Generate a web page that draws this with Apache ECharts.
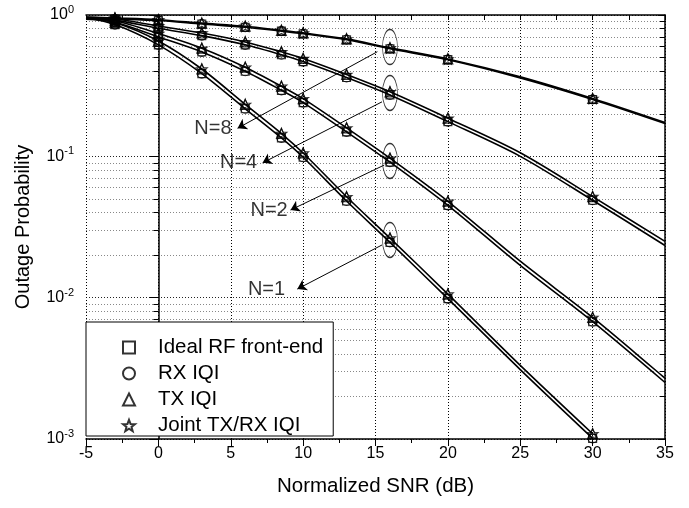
<!DOCTYPE html>
<html><head><meta charset="utf-8">
<script src="https://cdn.jsdelivr.net/npm/echarts@6/dist/echarts.min.js"></script>
<style>html,body{margin:0;padding:0;background:#fff}#c{width:689px;height:508px}</style>
</head><body><div id="c"></div>
<script>
// ---- data ----
const snr = [-5, -3, 0, 3, 6, 8.5, 10, 13, 16, 20, 25, 30, 35];
const markerSnr = [-3, 0, 3, 6, 8.5, 10, 13, 16, 20, 30];
// lower curve of each pair: ideal RF front-end / RX IQI ; upper: TX IQI / joint TX/RX IQI
const n1Ideal = [0.955, 0.855, 0.615, 0.385, 0.217, 0.135, 0.0985, 0.0483, 0.0246, 0.00985, 0.0031, 0.00101, null];
const n1Iqi   = [0.962, 0.885, 0.655, 0.415, 0.233, 0.145, 0.1055, 0.0518, 0.0264, 0.0106, 0.00332, 0.00109, null];
const n2Ideal = [0.935, 0.89, 0.70, 0.548, 0.40, 0.293, 0.24, 0.149, 0.091, 0.045, 0.0169, 0.00676, 0.00251];
const n2Iqi   = [0.945, 0.91, 0.74, 0.582, 0.427, 0.313, 0.256, 0.159, 0.097, 0.0481, 0.0181, 0.00725, 0.00269];
const n4Ideal = [0.955, 0.92, 0.805, 0.715, 0.615, 0.523, 0.468, 0.361, 0.272, 0.176, 0.10, 0.0489, 0.0234];
const n4Iqi   = [0.965, 0.94, 0.835, 0.745, 0.645, 0.549, 0.492, 0.379, 0.286, 0.186, 0.106, 0.0519, 0.025];
const n8Ideal = [0.953, 0.938, 0.914, 0.864, 0.82, 0.769, 0.737, 0.668, 0.577, 0.483, 0.359, 0.2527, 0.1708];
const n8Iqi   = [0.967, 0.952, 0.926, 0.876, 0.832, 0.779, 0.747, 0.678, 0.585, 0.489, 0.365, 0.2563, 0.1732];

const seriesNames = ['Ideal RF front-end', 'RX IQI', 'TX IQI', 'Joint TX/RX IQI'];
const curveLabels = ['N=1', 'N=2', 'N=4', 'N=8'];
const yMajorTicks = [0.001, 0.01, 0.1, 1];
const yMinorTicks = [0.002, 0.003, 0.004, 0.005, 0.006, 0.007, 0.008, 0.009,
                     0.02, 0.03, 0.04, 0.05, 0.06, 0.07, 0.08, 0.09,
                     0.2, 0.3, 0.4, 0.5, 0.6, 0.7, 0.8, 0.9];
// annotations (data coordinates)
const ellipseSnr = 16;
const ellipseVals = [0.0256, 0.0927, 0.2806, 0.593];
const labelPos = [[7.47, 0.0115], [7.65, 0.0417], [5.54, 0.0904], [3.77, 0.158]];
const arrowFrom = [[15.45, 0.0236], [15.6, 0.0867], [15.45, 0.243], [15.13, 0.55]];
const arrowTo = [[9.6, 0.0115], [9.13, 0.0417], [7.2, 0.0899], [5.47, 0.158]];

// ---- build ----
const pairs = [[n1Ideal, n1Iqi], [n2Ideal, n2Iqi], [n4Ideal, n4Iqi], [n8Ideal, n8Iqi]];
const toXY = arr => snr.map((x, i) => [x, arr[i]]).filter(p => p[1] != null);
const atMarkers = arr => markerSnr.map(x => [x, arr[snr.indexOf(x)]]).filter(p => p[1] != null);

const star = 'path://M0,-10 L2.469,-3.398 L9.511,-3.09 L3.994,1.298 L5.878,8.09 L0,4.2 L-5.878,8.09 L-3.994,1.298 L-9.511,-3.09 L-2.469,-3.398 Z';
const symbols = ['rect', 'circle', 'triangle', star];
const sizes = [8, 9, 10, 11];
const font = 'Liberation Sans, Arial, sans-serif';

const series = [];
pairs.forEach(p => {
  p.forEach(arr => {
    series.push({
      type: 'line', data: toXY(arr), showSymbol: false, smooth: 0.3,
      lineStyle: { color: '#000', width: 1.6 }, silent: true, z: 2
    });
  });
});
seriesNames.forEach((name, k) => {
  const data = [];
  pairs.forEach(p => { atMarkers(k < 2 ? p[0] : p[1]).forEach(d => data.push(d)); });
  series.push({
    name, type: 'scatter', data, symbol: symbols[k], symbolSize: sizes[k], symbolKeepAspect: true,
    itemStyle: { color: 'rgba(255,255,255,0)', borderColor: '#000', borderWidth: 1.1 }, z: 3
  });
});
series.push({
  type: 'scatter', data: ellipseVals.map(v => [ellipseSnr, v]), symbol: 'circle', symbolSize: [15, 35],
  itemStyle: { color: 'rgba(255,255,255,0)', borderColor: '#000', borderWidth: 1 }, z: 4, silent: true
});
series.push({
  type: 'lines', coordinateSystem: 'cartesian2d', polyline: false,
  data: arrowFrom.map((f, i) => ({ coords: [f, arrowTo[i]] })),
  lineStyle: { color: '#000', width: 1, opacity: 1 }, symbol: ['none', 'arrow'], symbolSize: [0, 9],
  itemStyle: { color: '#000' }, z: 4, silent: true
});
series.push({
  type: 'scatter', data: labelPos.map((p, i) => ({ value: p, name: curveLabels[i] })), symbolSize: 0,
  label: { show: true, position: 'inside', formatter: '{b}', color: '#000', fontSize: 20, fontFamily: font },
  z: 5, silent: true
});

const option = {
  animation: false,
  backgroundColor: '#fff',
  textStyle: { fontFamily: font },
  grid: { left: 86, right: 24, top: 15, bottom: 69, containLabel: false },
  legend: {
    data: seriesNames, orient: 'vertical', left: 86, top: 322,
    backgroundColor: '#fff', borderColor: '#000', borderWidth: 1, borderRadius: 0,
    padding: [15, 10, 0, 36], itemGap: 5, itemWidth: 12, itemHeight: 12,
    textStyle: { fontSize: 20.5, color: '#000', fontFamily: font, lineHeight: 21, padding: [0, 0, 0, 18] },
    selectedMode: false
  },
  xAxis: [{
    type: 'value', position: 'bottom', min: -5, max: 35, interval: 5,
    name: 'Normalized SNR (dB)', nameLocation: 'middle', nameGap: 37,
    nameTextStyle: { fontSize: 20.5, color: '#000', fontFamily: font },
    axisLine: { lineStyle: { color: '#000', width: 1.5 } },
    axisTick: { show: true, inside: false, length: 7, lineStyle: { color: '#000', width: 1 } },
    minorTick: { show: true, splitNumber: 2, length: 4, lineStyle: { color: '#000', width: 1 } },
    axisLabel: { fontSize: 16, color: '#000', margin: 7, fontFamily: font },
    splitLine: { show: true, lineStyle: { color: '#000', width: 1, type: [1, 2] } }
  }, {
    type: 'value', position: 'top', min: -5, max: 35, interval: 5,
    axisLine: { lineStyle: { color: '#000', width: 1.5 } },
    axisTick: { show: true, inside: true, length: 5, lineStyle: { color: '#000', width: 1 } },
    minorTick: { show: true, splitNumber: 2, length: 5, lineStyle: { color: '#000', width: 1 } },
    axisLabel: { show: false }, splitLine: { show: false }
  }],
  yAxis: [{
    type: 'log', logBase: 10, position: 'left', min: 0.001, max: 1,
    name: 'Outage Probability', nameLocation: 'middle', nameGap: 53,
    nameTextStyle: { fontSize: 20, color: '#000', fontFamily: font },
    axisLine: { show: true, lineStyle: { color: '#000', width: 1.5 } },
    axisTick: { show: true, inside: false, length: 9, customValues: yMajorTicks, lineStyle: { color: '#000' } },
    axisLabel: {
      customValues: yMajorTicks, margin: 12,
      formatter: v => '{b|10}{s|' + Math.round(Math.log10(v)) + '}',
      rich: { b: { fontSize: 16, color: '#000', fontFamily: font }, s: { fontSize: 11, color: '#000', fontFamily: font, verticalAlign: 'top', padding: [0, 0, 10, 0] } }
    },
    splitLine: { show: true, lineStyle: { color: '#222', width: 1, type: [1, 2] } }
  }, {
    type: 'log', logBase: 10, position: 'left', min: 0.001, max: 1,
    axisLine: { show: false },
    axisTick: { show: true, inside: false, length: 5, customValues: yMinorTicks, lineStyle: { color: '#000' } },
    axisLabel: { show: false },
    splitLine: { show: true, lineStyle: { color: '#888', width: 1, type: [1, 2] } }
  }, {
    type: 'log', logBase: 10, position: 'right', min: 0.001, max: 1,
    axisLine: { show: true, lineStyle: { color: '#000', width: 1.5 } },
    axisTick: { show: true, inside: true, length: 7, customValues: yMajorTicks, lineStyle: { color: '#000' } },
    axisLabel: { show: false }, splitLine: { show: false }
  }, {
    type: 'log', logBase: 10, position: 'right', min: 0.001, max: 1,
    axisLine: { show: false },
    axisTick: { show: true, inside: true, length: 5, customValues: yMinorTicks, lineStyle: { color: '#000' } },
    axisLabel: { show: false }, splitLine: { show: false }
  }],
  series
};
const chart = echarts.init(document.getElementById('c'), null, { renderer: 'canvas' });
chart.setOption(option);
</script>
</body></html>
